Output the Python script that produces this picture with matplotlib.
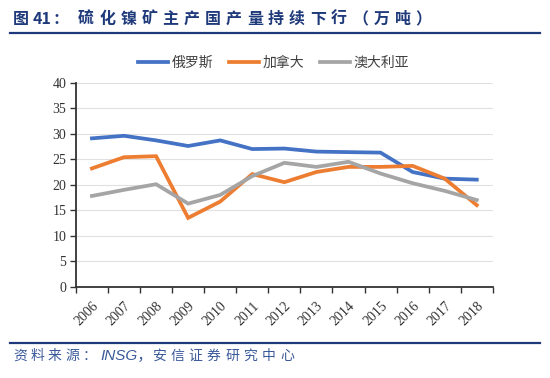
import matplotlib
matplotlib.use("Agg")
import matplotlib.pyplot as plt
from matplotlib.lines import Line2D

plt.rcParams['font.family'] = ['Noto Sans CJK SC', 'DejaVu Sans']

years = ['2006', '2007', '2008', '2009', '2010', '2011', '2012',
         '2013', '2014', '2015', '2016', '2017', '2018']
russia = [29.1, 29.6, 28.7, 27.6, 28.7, 27.0, 27.1, 26.5, 26.4, 26.3, 22.5, 21.2, 21.0]
canada = [23.2, 25.4, 25.6, 13.5, 16.7, 22.1, 20.5, 22.5, 23.5, 23.5, 23.7, 21.2, 16.0]
australia = [17.8, 19.0, 20.1, 16.3, 18.0, 21.7, 24.3, 23.5, 24.5, 22.2, 20.3, 18.8, 17.0]
series_names = ['俄罗斯', '加拿大', '澳大利亚']
colors = ['#4472C4', '#ED7D31', '#A5A5A5']
title_prefix = ['图', '41', '：']
title_body = '硫化镍矿主产国产量持续下行（万吨）'
source_head = '资料来源：'
source_org = 'INSG，'
source_tail = '安信证券研究中心'

W, H = 550, 378
fig = plt.figure(figsize=(W / 100, H / 100), dpi=100)
ax = fig.add_axes([0.138, 0.2415, 0.758, 0.5395])

x = list(range(len(years)))
for vals, c, n in zip([russia, canada, australia], colors, series_names):
    ax.plot(x, vals, color=c, lw=2.7, label=n, solid_joinstyle='miter')

ax.set_xlim(-0.5, len(years) - 0.5)
ax.set_ylim(0, 40)
ax.set_yticks(range(0, 41, 5))
ax.set_xticks(x)
ax.set_xticklabels(years, rotation=45, ha='right', rotation_mode='anchor',
                   family=['Liberation Serif'], fontsize=10, color='#333333')
ax.set_xticks([i - 0.5 for i in range(len(years) + 1)], minor=True)
ax.tick_params(axis='x', which='major', length=0, pad=9)
ax.tick_params(axis='x', which='minor', length=4, width=1, color='#333333', direction='out')
ax.tick_params(axis='y', length=4, width=1, color='#333333', direction='out', pad=3)
for lab in ax.get_yticklabels():
    lab.set_family(['Liberation Serif'])
    lab.set_fontsize(10)
    lab.set_color('#333333')
ax.grid(axis='y', color='#E0E0E0', lw=0.8)
ax.set_axisbelow(True)
for s in ['top', 'right']:
    ax.spines[s].set_visible(False)
for s in ['left', 'bottom']:
    ax.spines[s].set_color('#333333')
    ax.spines[s].set_linewidth(1.3)

leg = fig.legend(loc='center', bbox_to_anchor=(0.497, 0.833), ncol=3, frameon=False,
                 fontsize=10, handlelength=2.2, columnspacing=1.1, handletextpad=0.25)
for t in leg.get_texts():
    t.set_color('#404040')

navy = '#1F3A7A'
# title, characters spaced as in the reference
ty = 1 - 19 / H
for s, px in zip(title_prefix, [13, 33, 53]):
    fig.text(px / W, ty, s, fontsize=11.5, fontweight='bold', color=navy,
             va='center', ha='left')
for i, ch in enumerate(title_body):
    fig.text((78 + 21.1 * i) / W, ty, ch, fontsize=11.5, fontweight='bold',
             color=navy, va='center', ha='left')
fig.add_artist(Line2D([10 / W, 540 / W], [1 - 33 / H, 1 - 33 / H], color=navy, lw=1.6))
fig.add_artist(Line2D([10 / W, 540 / W], [1 - 343 / H, 1 - 343 / H], color=navy, lw=1.6))

# source line
sy = 1 - 356 / H
scol = '#3A5A9A'
pos = 13
for ch in source_head:
    fig.text(pos / W, sy, ch, fontsize=10, color=scol, va='center', ha='left')
    pos += 17.5
fig.text(100 / W, sy, source_org, fontsize=11, color=scol, va='center', ha='left',
         family=['Liberation Sans', 'Noto Sans CJK SC'], style='italic')
pos = 152
for ch in source_tail:
    fig.text(pos / W, sy, ch, fontsize=10, color=scol, va='center', ha='left')
    pos += 18.3

fig.savefig('out.png', dpi=100)
